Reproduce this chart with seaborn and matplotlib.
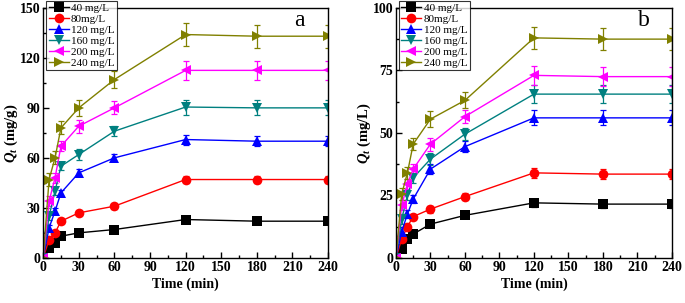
import matplotlib
matplotlib.use("Agg")
import matplotlib.pyplot as plt
import numpy as np
import pandas as pd
import seaborn as sns

time = [0, 5, 10, 15, 30, 60, 120, 180, 240]
labels = ["40 mg/L", "80mg/L", "120 mg/L", "160 mg/L", "200 mg/L", "240 mg/L"]

qa_40 = [0, 6, 9, 13, 15, 17, 23, 22, 22]
qa_80 = [0, 11, 15, 22, 27, 31, 47, 47, 47]
qa_120 = [0, 18, 28, 39, 51, 60, 71, 70, 70]
qa_160 = [0, 25, 40, 55, 62, 76, 90.5, 90, 90]
qa_200 = [0, 34, 48, 67, 79, 90, 112.5, 112.5, 112.5]
qa_240 = [0, 47, 60, 78, 90, 107, 134, 133, 133]
ea = [1, 2, 3, 4.5, 5.5, 7]

qb_40 = [0, 3.5, 7.5, 9.5, 13.5, 17, 22, 21.5, 21.5]
qb_80 = [0, 7.5, 12.5, 16.5, 19.5, 24.5, 34, 33.5, 33.5]
qb_120 = [0, 10.5, 17.5, 23.5, 35.5, 44.5, 56, 56, 56]
qb_160 = [0, 15.5, 25, 32, 39.5, 49.5, 65.5, 65.5, 65.5]
qb_200 = [0, 21, 29.5, 35.5, 45.5, 56.5, 73, 72.5, 72.5]
qb_240 = [0, 25.5, 34, 45.5, 55.5, 63, 88, 87.5, 87.5]
eb = [1.5, 2, 3, 3.5, 3.7, 4.5]

colors = ["black", "red", "blue", "#008080", "magenta", "#808000"]
markers = ["s", "o", "^", "v", "<", ">"]

plt.rcParams["font.family"] = ["Liberation Serif", "DejaVu Serif"]
plt.rcParams["font.weight"] = "bold"
plt.rcParams["axes.labelweight"] = "bold"
plt.rcParams["mathtext.fontset"] = "custom"
plt.rcParams["mathtext.it"] = "Liberation Serif:italic:bold"
plt.rcParams["mathtext.rm"] = "Liberation Serif:bold"


def make_df(series):
    rows = []
    for lab, vals in zip(labels, series):
        for t, v in zip(time, vals):
            rows.append((t, v, lab))
    return pd.DataFrame(rows, columns=["Time", "Q", "Conc"])


fig = plt.figure(figsize=(6.85, 3.03), dpi=100)
ax_a = fig.add_axes([0.063, 0.149, 0.416, 0.825])
ax_b = fig.add_axes([0.578, 0.149, 0.403, 0.825])

panels = [
    (ax_a, [qa_40, qa_80, qa_120, qa_160, qa_200, qa_240], ea, 150, 30, r"$Q_t$ (mg/g)", "a"),
    (ax_b, [qb_40, qb_80, qb_120, qb_160, qb_200, qb_240], eb, 100, 25, r"$Q_t$ (mg/L)", "b"),
]

for ax, series, errs, ymax, ystep, ylab, tag in panels:
    df = make_df(series)
    for lab, vals, err, c in zip(labels, series, errs, colors):
        e = [0] + [err * (0.55 if t < 30 else 0.7 if t < 120 else 1.0) for t in time[1:]]
        ax.errorbar(time, vals, yerr=e, fmt="none", ecolor=c, elinewidth=0.9,
                    capsize=2.5, capthick=0.9, zorder=1)
    sns.lineplot(data=df, x="Time", y="Q", hue="Conc", style="Conc",
                 palette=colors, markers=markers, dashes=False, markersize=7,
                 markeredgewidth=0, linewidth=1.0, ax=ax, zorder=2)
    ax.set_xlim(0, 240)
    ax.set_ylim(0, ymax)
    ax.set_xticks(np.arange(0, 241, 30))
    ax.set_xticks(np.arange(15, 241, 30), minor=True)
    ax.set_yticks(np.arange(0, ymax + 1, ystep))
    ax.set_yticks(np.arange(ystep / 2, ymax, ystep), minor=True)
    ax.tick_params(direction="in", which="both", labelsize=10, width=1, pad=2)
    ax.tick_params(which="major", length=4)
    ax.tick_params(which="minor", length=2)
    for sp in ax.spines.values():
        sp.set_linewidth(1)
    ax.set_xlabel("Time (min)", fontsize=10, labelpad=3)
    ax.set_ylabel(ylab, fontsize=10.5, labelpad=0)
    ax.text(0.9, 0.95, tag, transform=ax.transAxes, fontsize=17,
            fontweight="normal", ha="center", va="center")
    leg = ax.legend(loc="upper left", bbox_to_anchor=(0.0, 1.04), fontsize=8,
                    frameon=True, fancybox=False, edgecolor="black",
                    borderpad=0.2, labelspacing=0.1, handlelength=1.8,
                    handletextpad=0.2, borderaxespad=0.3)
    leg.get_frame().set_linewidth(0.8)
    for t in leg.get_texts():
        t.set_fontweight("normal")

fig.savefig("out.png", dpi=100)
